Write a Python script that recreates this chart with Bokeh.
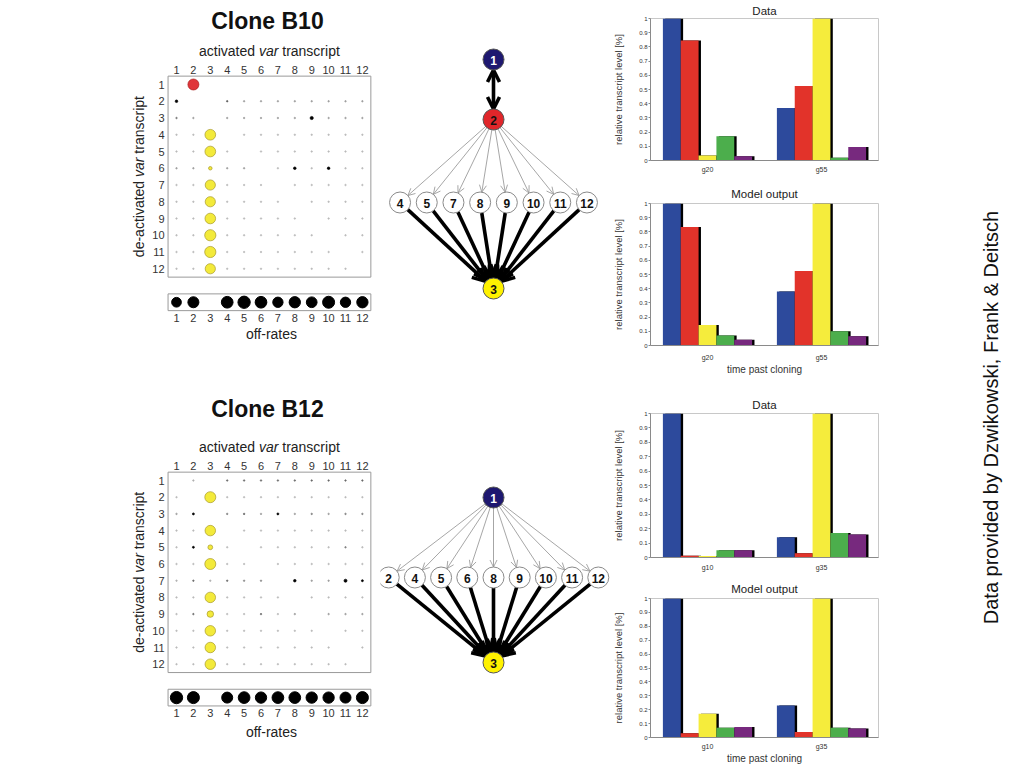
import math
from bokeh.plotting import figure
from bokeh.layouts import row, column
from bokeh.models import (Range1d, FactorRange, FixedTicker, Arrow, OpenHead,
                          ColumnDataSource, PrintfTickFormatter)
from bokeh.transform import dodge
from bokeh.embed import file_html
from bokeh.resources import INLINE
from bokeh.core.properties import value

FONT = "Liberation Sans"

# ------------------------------------------------------------------ data
transcripts = list(range(1, 13))

# switching matrix (rows: de-activated, cols: activated), bubble weights
b10_flux = [
    [0, 11, 0, 0, 0, 0, 0, 0, 0, 0, 0, 0],
    [2.6, 0, 0, 1.7, 1, 1, 1, 1, 1, 1, 1, 1],
    [1.4, 1, 0, 1, 1, 1, 1, 1, 3.2, 1, 1, 1],
    [0.7, 0.7, 10.7, 0, 0.7, 0.7, 0.7, 0.7, 0.7, 0.7, 0.7, 0.7],
    [0.7, 0.7, 10.7, 0.7, 0, 0.7, 0.7, 0.7, 0.7, 0.7, 0.7, 0.7],
    [1, 1, 3.5, 1, 1, 0, 0.7, 2.6, 0.7, 2.6, 0.7, 0.7],
    [0.7, 0.7, 10.2, 0.7, 0.7, 0.7, 0, 0.7, 0.7, 0.7, 0.7, 0.7],
    [0.7, 0.7, 10.2, 0.7, 0.7, 0.7, 0.7, 0, 0.7, 0.7, 0.7, 0.7],
    [0.7, 0.7, 10.6, 0.7, 0.7, 0.7, 0.7, 0.7, 0, 0.7, 0.7, 0.7],
    [0.7, 0.7, 11.2, 0.7, 0.7, 0.7, 0.7, 0.7, 0.7, 0, 0.7, 0.7],
    [0.7, 0.7, 11.2, 0.7, 0.7, 0.7, 0.7, 0.7, 0.7, 0.7, 0, 0.7],
    [0.7, 0.7, 10.2, 0.7, 0.7, 0.7, 0.7, 0.7, 0.7, 0.7, 0.7, 0],
]
b12_flux = [
    [0, 0.8, 0, 1.5, 1.5, 1.5, 1.5, 1.5, 1.5, 1.5, 1.5, 1.5],
    [0.7, 0, 11, 0.7, 0.7, 0.7, 0.7, 0.7, 0.7, 0.7, 0.7, 0.7],
    [1, 2, 0, 1.3, 1.6, 1, 2, 1, 1.3, 1, 1.3, 1.3],
    [0.7, 0.7, 10.5, 0, 0.7, 0.7, 0.7, 0.7, 0.7, 0.7, 0.7, 0.7],
    [0.7, 2, 4.8, 0.7, 0, 0.7, 0.7, 0.7, 0.7, 0.7, 1.3, 0.7],
    [0.7, 0.7, 11, 0.7, 0.7, 0, 0.7, 0.7, 0.7, 0.7, 0.7, 0.7],
    [0.8, 1.5, 0.8, 1.5, 1.2, 1.2, 0, 2.6, 1, 1, 3, 2],
    [0.7, 0.7, 10.5, 0.7, 0.7, 0.7, 0.7, 0, 0.7, 0.7, 0.7, 0.7],
    [0.7, 1.5, 6.5, 0.7, 0.7, 1.5, 0.7, 1, 0, 1, 1, 1],
    [0.7, 0.7, 10.5, 0.7, 0.7, 0.7, 0.7, 0.7, 0.7, 0, 0.7, 0.7],
    [0.7, 0.7, 10.5, 0.7, 0.7, 0.7, 0.7, 0.7, 0.7, 0.7, 0, 0.7],
    [0.7, 0.7, 10.5, 0.7, 0.7, 0.7, 0.7, 0.7, 0.7, 0.7, 0.7, 0],
]
b10_offrates = [9.7, 11, 0, 11.7, 12.3, 11.7, 10.3, 11.3, 10.7, 12, 10.3, 11.3]
b12_offrates = [12.3, 12, 0, 11, 11.7, 11.3, 11.7, 11.7, 11.3, 11.3, 11, 12]

RED = ("#e0353a", "#a82020")
YELLOW = ("#f3ea3a", "#a89a28")
b10_bubble_colours = {2: RED, 3: YELLOW}
b12_bubble_colours = {3: YELLOW}

# networks
b10_node_colours = {1: ("#1e1870", "white"), 2: ("#e0262a", "#111111"), 3: ("#fff200", "#111111")}
b12_node_colours = {1: ("#1e1870", "white"), 3: ("#fff200", "#111111")}
b10_chain = [1]            # node linked both ways to the hub, drawn above it
b10_hub = 2
b10_targets = [4, 5, 7, 8, 9, 10, 11, 12]
b10_sink = 3
b12_chain = []
b12_hub = 1
b12_targets = [2, 4, 5, 6, 8, 9, 10, 11, 12]
b12_sink = 3

# bar charts (five transcript series)
series_colours = ["#2d4a9c", "#e2332a", "#f5ec3c", "#4cae4c", "#77297e"]
b10_times = ["g20", "g55"]
b10_data_g20 = [1.0, 0.845, 0.035, 0.17, 0.03]
b10_data_g55 = [0.37, 0.525, 1.0, 0.02, 0.095]
b10_model_g20 = [1.0, 0.835, 0.145, 0.07, 0.04]
b10_model_g55 = [0.38, 0.525, 1.0, 0.10, 0.065]
b12_times = ["g10", "g35"]
b12_data_g10 = [1.0, 0.012, 0.01, 0.05, 0.05]
b12_data_g35 = [0.14, 0.03, 1.0, 0.17, 0.16]
b12_model_g10 = [1.0, 0.03, 0.17, 0.07, 0.075]
b12_model_g35 = [0.23, 0.04, 1.0, 0.07, 0.065]
y_ticks = [i / 10 for i in range(11)]

credit = "Data provided by Dzwikowski, Frank & Deitsch"


# ------------------------------------------------------------------ helpers
def gtext(p, xs, ys, texts, size="14px", style="normal", align="center", angle=0.0, colour="#222222"):
    p.text(x=xs, y=ys, text=texts, text_font=value(FONT), text_font_size=size,
           text_font_style=style, text_align=align, text_baseline="middle",
           angle=angle, text_color=colour)


def bare(p):
    p.grid.visible = False
    p.outline_line_color = None


COL1 = 176.0   # pixel x of column 1
DX = 16.9      # pixels per column


def matrix_panel(clone, flux, offrates, bubble_colours, height, row1, DY, title_up, off_down):
    x0 = 1 - COL1 / DX
    ytop = 1 - row1 / DY
    p = figure(width=380, height=height, x_range=Range1d(x0, x0 + 380 / DX),
               y_range=Range1d(ytop + height / DY, ytop), min_border=0,
               x_axis_location=None, y_axis_location=None,
               output_backend="svg", toolbar_location=None)
    bare(p)

    # boxes
    p.quad(left=[0.5], right=[12.5], top=[0.5], bottom=[12.5], fill_color=None,
           line_color="#9a9a9a", line_width=1)
    p.quad(left=[0.5], right=[12.5], top=[13.5], bottom=[14.5], fill_color=None,
           line_color="#9a9a9a", line_width=1)

    xs, ys, ss, fc, lc = [], [], [], [], []
    for r, vals in enumerate(flux, start=1):
        for c, w in enumerate(vals, start=1):
            if w <= 0:
                continue
            if w >= 3 and c in bubble_colours:
                f, l = bubble_colours[c]
                s = w
            elif w >= 2:
                f = l = "#000000"
                s = w
            else:
                g = int(255 - w / 2.0 * 200)
                f = l = "#%02x%02x%02x" % (g, g, g)
                s = 1.5
            xs.append(c); ys.append(r); ss.append(s); fc.append(f); lc.append(l)
    p.scatter(x="x", y="y", size="s", fill_color="f", line_color="l", line_width=0.7,
              source=ColumnDataSource(dict(x=xs, y=ys, s=ss, f=fc, l=lc)))

    ox = [t for t, v in zip(transcripts, offrates) if v > 0]
    ov = [v for v in offrates if v > 0]
    p.scatter(x=ox, y=[14.0] * len(ox), size=ov, fill_color="black", line_color="black")

    # tick labels
    labels = [str(t) for t in transcripts]
    gtext(p, transcripts, [0.5 - 6.5 / DY] * 12, labels, size="11px", colour="#333333")
    gtext(p, transcripts, [14.5 + 7.5 / DY] * 12, labels, size="11px", colour="#333333")
    gtext(p, [0.5 - 3.5 / DX] * 12, transcripts, labels, size="11px", align="right", colour="#333333")

    # titles
    gtext(p, [6.5 - 2 / DX], [0.5 - title_up / DY], ["Clone " + clone], size="23px", style="bold",
          colour="#111111")
    ya = 0.5 - 25 / DY
    gtext(p, [6.5 - 70.4 / DX], [ya], ["activated"], align="left")
    gtext(p, [6.5 - 10.5 / DX], [ya], ["var"], align="left", style="italic")
    gtext(p, [6.5 + 12.8 / DX], [ya], ["transcript"], align="left")
    a = math.pi / 2
    xl = 0.5 - 29 / DX
    gtext(p, [xl], [6.5 + 80.5 / DY], ["de-activated"], align="left", angle=a)
    gtext(p, [xl], [6.5 + 0.3 / DY], ["var"], align="left", angle=a, style="italic")
    gtext(p, [xl], [6.5 - 23.0 / DY], ["transcript"], align="left", angle=a)
    gtext(p, [6.5 + 2 / DX], [14.5 + off_down / DY], ["off-rates"])
    return p


def trim(p0, p1, r0, r1):
    dx, dy = p1[0] - p0[0], p1[1] - p0[1]
    d = math.hypot(dx, dy)
    ux, uy = dx / d, dy / d
    return p0[0] + ux * r0, p0[1] + uy * r0, p1[0] - ux * r1, p1[1] - uy * r1


def arrows(p, pairs, pos, r, colour, lw, head, both=False):
    cols = dict(x0=[], y0=[], x1=[], y1=[])
    for a, b in pairs:
        x0, y0, x1, y1 = trim(pos[a], pos[b], r, r)
        cols["x0"].append(x0); cols["y0"].append(y0)
        cols["x1"].append(x1); cols["y1"].append(y1)
    kw = dict(end=OpenHead(size=head, line_color=colour, line_width=lw),
              x_start="x0", y_start="y0", x_end="x1", y_end="y1",
              source=ColumnDataSource(cols), line_color=colour, line_width=lw, level="underlay")
    if both:
        kw["start"] = OpenHead(size=head, line_color=colour, line_width=lw)
    p.add_layout(Arrow(**kw))


def network_panel(height, chain, hub, targets, sink, colours, spacing, sink_y, mid_gap, hub_gap):
    p = figure(width=230, height=height, x_range=Range1d(-113, 117), y_range=Range1d(height, 0),
               min_border=0, x_axis_location=None, y_axis_location=None,
               output_backend="svg", toolbar_location=None)
    bare(p)
    mid_y = sink_y - mid_gap
    hub_y = mid_y - hub_gap
    pos = {sink: (0, sink_y), hub: (0, hub_y)}
    n = len(targets)
    for i, t in enumerate(targets):
        pos[t] = ((i - (n - 1) / 2) * spacing, mid_y)
    for k, c in enumerate(chain, start=1):
        pos[c] = (0, hub_y - 60 * k)
    R = 10.5
    arrows(p, [(hub, t) for t in targets], pos, R, "#8f8f8f", 0.8, 7)
    arrows(p, [(t, sink) for t in targets], pos, R, "#000000", 3.6, 13)
    if chain:
        arrows(p, [(c, hub) for c in chain], pos, R, "#000000", 3.6, 12, both=True)
    nodes = list(pos.keys())
    p.scatter(x=[pos[k][0] for k in nodes], y=[pos[k][1] for k in nodes], size=21,
              fill_color=[colours.get(k, ("white", "#111"))[0] for k in nodes],
              line_color=["#555555" if k in colours else "#8a8a8a" for k in nodes], line_width=1)
    p.text(x=[pos[k][0] for k in nodes], y=[pos[k][1] + 0.5 for k in nodes],
           text=[str(k) for k in nodes],
           text_color=[colours.get(k, ("white", "#111111"))[1] for k in nodes],
           text_align="center", text_baseline="middle", text_font=value(FONT),
           text_font_size="12px", text_font_style="bold")
    return p


def bar_panel(title, times, groups, height, mbt, mbb, title_standoff, xl_standoff, xlabel=None):
    p = figure(width=295, height=height, x_range=FactorRange(*times), y_range=Range1d(0, 1),
               min_border_left=38, min_border_right=27, min_border_top=mbt, min_border_bottom=mbb,
               title=title, output_backend="svg", toolbar_location=None)
    p.title.align = "center"
    p.title.text_font = FONT
    p.title.text_font_size = "11.5px"
    p.title.text_font_style = "normal"
    p.title.text_color = "#222222"
    p.title.standoff = title_standoff
    p.grid.visible = False
    p.outline_line_color = "#c8c8c8"
    data = dict(time=times)
    for i in range(5):
        data["s%d" % i] = [g[i] for g in groups]
    src = ColumnDataSource(data)
    w = 18.0 / 115
    sh = 2.4 / 115
    offs = [(i - 2) * w for i in range(5)]
    for i in range(5):
        p.vbar(x=dodge("time", offs[i] + sh, range=p.x_range), top="s%d" % i, width=w,
               fill_color="black", line_color=None, source=src)
    for i in range(5):
        p.vbar(x=dodge("time", offs[i], range=p.x_range), top="s%d" % i, width=w,
               fill_color=series_colours[i], line_color=None, source=src)
    ya = p.yaxis[0]
    ya.ticker = FixedTicker(ticks=y_ticks)
    ya.formatter = PrintfTickFormatter(format="%g")
    ya.minor_tick_line_color = None
    ya.major_tick_out = 2
    ya.major_tick_in = 0
    ya.major_tick_line_color = "#8a8a8a"
    ya.axis_line_color = "#8a8a8a"
    ya.major_label_standoff = 1
    ya.major_label_text_font = FONT
    ya.major_label_text_font_size = "6px"
    ya.major_label_text_color = "#333333"
    ya.axis_label = "relative transcript level [%]"
    ya.axis_label_text_font = FONT
    ya.axis_label_text_font_size = "9.5px"
    ya.axis_label_text_font_style = "normal"
    ya.axis_label_text_color = "#333333"
    ya.axis_label_standoff = 12
    xa = p.xaxis[0]
    xa.major_tick_line_color = None
    xa.major_tick_out = 0
    xa.major_tick_in = 0
    xa.axis_line_color = "#8a8a8a"
    xa.major_label_text_font = FONT
    xa.major_label_text_font_size = "7px"
    xa.major_label_text_color = "#333333"
    xa.major_label_standoff = xl_standoff
    if xlabel:
        xa.axis_label = xlabel
        xa.axis_label_text_font = FONT
        xa.axis_label_text_font_size = "10px"
        xa.axis_label_text_font_style = "normal"
        xa.axis_label_text_color = "#333333"
        xa.axis_label_standoff = 0
    return p


# ------------------------------------------------------------------ panels
m10 = matrix_panel("B10", b10_flux, b10_offrates, b10_bubble_colours, 380, 84, 16.75, 55.5, 23)
m12 = matrix_panel("B12", b12_flux, b12_offrates, b12_bubble_colours, 386, 100, 16.7, 63.5, 26)

n10 = network_panel(380, b10_chain, b10_hub, b10_targets, b10_sink, b10_node_colours,
                    26.7, 288, 86, 83)
n12 = network_panel(386, b12_chain, b12_hub, b12_targets, b12_sink, b12_node_colours,
                    26.2, 282, 85, 80)

bar1 = bar_panel("Data", b10_times, [b10_data_g20, b10_data_g55], 182, 17, 22, 4, 5)
bar2 = bar_panel("Model output", b10_times, [b10_model_g20, b10_model_g55], 203, 20, 40, 7, 8,
                 xlabel="time past cloning")
bar3 = bar_panel("Data", b12_times, [b12_data_g10, b12_data_g35], 190, 28, 18, 6, 6)
bar4 = bar_panel("Model output", b12_times, [b12_model_g10, b12_model_g35], 191, 23, 23, 8, 5,
                 xlabel="time past cloning")

tf = figure(width=117, height=766, x_range=Range1d(0, 117), y_range=Range1d(766, 0),
            min_border=0, x_axis_location=None, y_axis_location=None,
            output_backend="svg", toolbar_location=None)
bare(tf)
tf.text(x=[85], y=[417], text=[credit], angle=math.pi / 2, text_align="center",
        text_baseline="middle", text_font=value(FONT), text_font_size="20px", text_color="#111111")

layout = row(column(m10, m12), column(n10, n12), column(bar1, bar2, bar3, bar4), tf)

open("out.html", "w").write(file_html(layout, INLINE))
